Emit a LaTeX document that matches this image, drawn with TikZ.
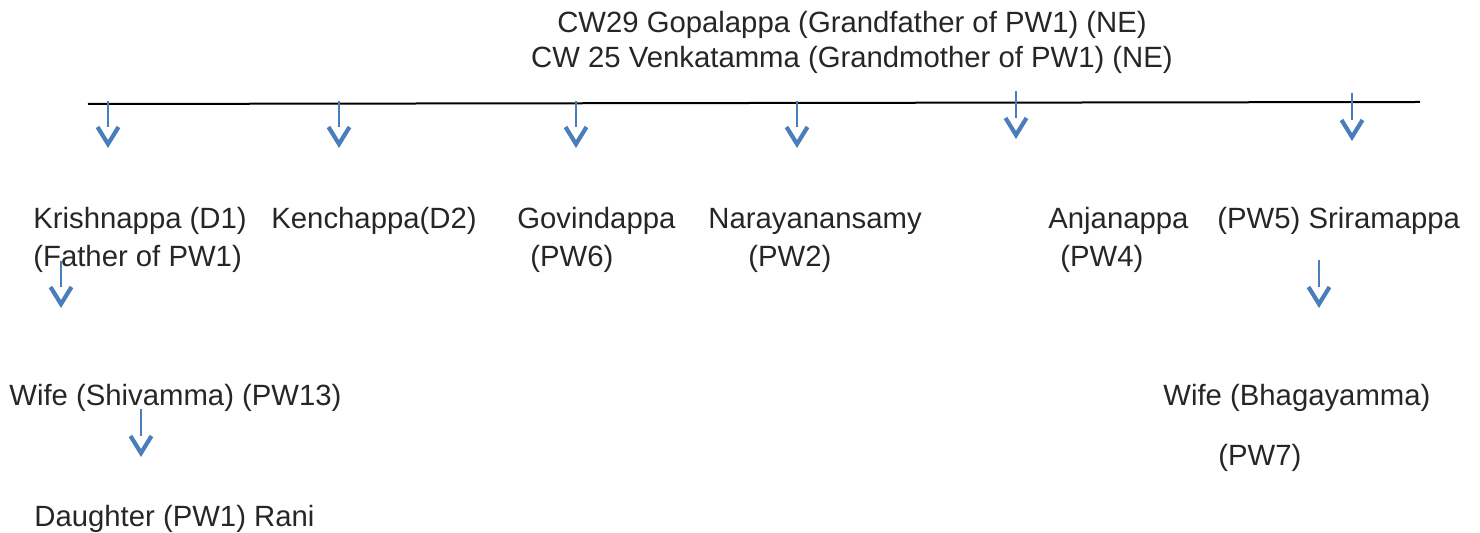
\documentclass[tikz,border=0pt]{standalone}
\usepackage{fontspec}
\setmainfont{Liberation Sans}
\usepackage{tikz}
\definecolor{ftInk}{HTML}{262626}
\definecolor{ftBlue}{HTML}{4A7EBB}
\tikzset{
  ft diagram/.style={x=0.5pt, y=-0.5pt, text=ftInk,
    font=\fontsize{14.65pt}{19pt}\selectfont},
  ft label/.style={anchor=base west, inner sep=0pt, align=left},
  ft title/.style={anchor=base, inner sep=0pt, align=center,
    font=\fontsize{14.65pt}{17.5pt}\selectfont},
  ft bar/.style={draw=black, line width=1pt},
  ft stem/.style={draw=ftBlue, line width=0.9pt},
  ft head/.style={draw=ftBlue, line width=2.1pt, miter limit=4}
}
\begin{document}
\begin{tikzpicture}[ft diagram]
\useasboundingbox (0,0) rectangle (1480,533);
% grandparents and the generation bar
\node[ft title] (elders) at (852,68) {CW29 Gopalappa (Grandfather of PW1) (NE)\\CW 25 Venkatamma (Grandmother of PW1) (NE)};
\coordinate (barL) at (88,104);
\coordinate (barR) at (1420,102);
\draw[ft bar] (barL) -- (barR);
% children (base anchor sits on the last line)
\node[ft label] (krishnappa) at (33,267) {Krishnappa (D1)\\(Father of PW1)};
\node[ft label] (kenchappa) at (271,229) {Kenchappa(D2)};
\node[ft label] (govindappa) at (517,267) {Govindappa\\\hspace*{6.5pt}(PW6)};
\node[ft label] (narayanansamy) at (708,267) {Narayanansamy\\\hspace*{20pt}(PW2)};
\node[ft label] (anjanappa) at (1048,267) {Anjanappa\\\hspace*{6pt}(PW4)};
\node[ft label] (sriramappa) at (1217,229) {(PW5) Sriramappa};
% next generations
\node[ft label] (shivamma) at (9,406) {Wife (Shivamma) (PW13)};
\node[ft label] (rani) at (34,527) {Daughter (PW1) Rani};
\node[ft label] (bhagayamma) at (1163,466) {Wife (Bhagayamma)\\[11pt]\hspace*{27.5pt}(PW7)};
% down arrows: thin stem, then an open V head
\foreach \who/\x/\ya/\yb in {krishnappa/108/101/148, kenchappa/339/101/148,
    govindappa/576/101/148, narayanansamy/797/101/148,
    anjanappa/1016/91/139, sriramappa/1352/93/141,
    shivamma/61/261/308, rani/141/409/457, bhagayamma/1319/260/308} {
  \coordinate (\who top) at (\x,\ya);
  \coordinate (\who neck) at (\x,\yb-21);
  \coordinate (\who tip) at (\x,\yb-4);
  \draw[ft stem] (\who top) -- (\who neck);
  \draw[ft head] (\who tip) +(-10.5,-17) -- (\who tip) -- +(10.5,-17);
}
\end{tikzpicture}
\end{document}
